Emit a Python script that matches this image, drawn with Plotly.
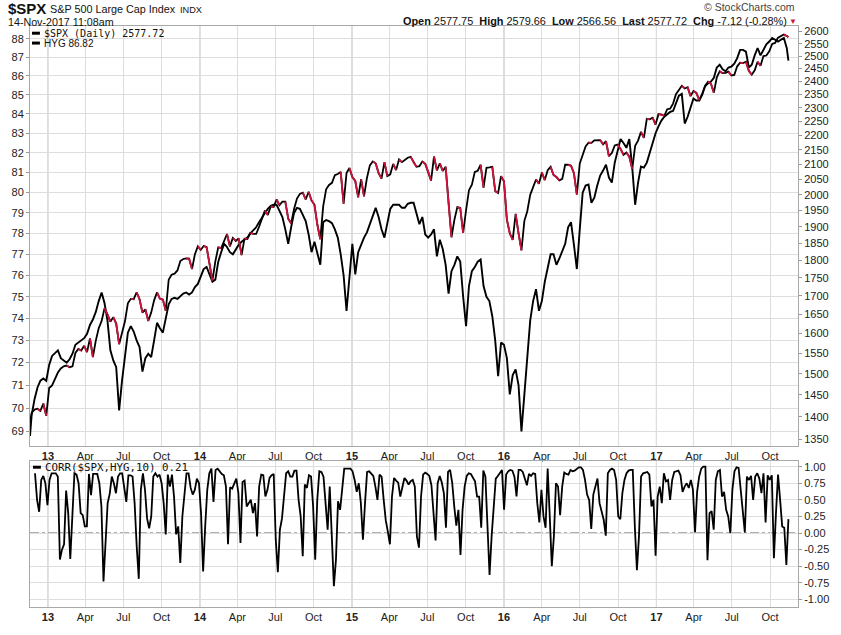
import pandas as pd
import plotly.graph_objects as go

# ---------------- data (weekly closes) ----------------
spx_2012 = [1387, 1409, 1416, 1418, 1413, 1430, 1402]
spx_2013 = [1466, 1472, 1486, 1503, 1513, 1518, 1520, 1516, 1518, 1551, 1561, 1557, 1569,
            1553, 1588, 1541, 1582, 1614, 1633, 1667, 1650, 1631, 1643, 1626, 1573, 1606,
            1632, 1680, 1692, 1691, 1710, 1691, 1655, 1664, 1633, 1655, 1688, 1710, 1692,
            1690, 1660, 1745, 1759, 1762, 1771, 1798, 1804, 1806, 1805, 1775, 1818, 1841]
spx_2014 = [1831, 1842, 1839, 1790, 1742, 1797, 1838, 1836, 1859, 1878, 1841, 1866, 1857,
            1865, 1815, 1864, 1863, 1881, 1878, 1878, 1900, 1924, 1950, 1936, 1963, 1961,
            1985, 1967, 1978, 1978, 1925, 1910, 1955, 1988, 2003, 2007, 1985, 2010, 1982,
            1968, 1906, 1862, 1964, 2018, 2032, 2039, 2064, 2068, 2075, 1972, 2071, 2088]
spx_2015 = [2058, 2045, 1992, 2051, 1995, 2055, 2097, 2110, 2104, 2071, 2053, 2108, 2061,
            2067, 2102, 2081, 2117, 2108, 2116, 2123, 2126, 2107, 2092, 2094, 2110, 2102,
            2077, 2046, 2127, 2080, 2104, 2078, 2092, 1971, 1868, 1921, 1961, 1958, 1881,
            1951, 2015, 2033, 2075, 2079, 2099, 2023, 2089, 2090, 2092, 2012, 2006, 2061]
spx_2016 = [2044, 1922, 1880, 1860, 1940, 1880, 1829, 1918, 1948, 2000, 2022, 2050, 2036,
            2073, 2048, 2081, 2092, 2065, 2058, 2047, 2052, 2099, 2099, 2096, 2071, 2001,
            2103, 2130, 2162, 2175, 2174, 2183, 2184, 2184, 2169, 2180, 2128, 2139, 2165,
            2168, 2153, 2133, 2141, 2126, 2085, 2164, 2182, 2213, 2192, 2260, 2258, 2264, 2239]
spx_2017 = [2277, 2275, 2271, 2295, 2297, 2316, 2351, 2367, 2383, 2373, 2378, 2344, 2363,
            2356, 2329, 2349, 2384, 2399, 2391, 2357, 2416, 2439, 2432, 2433, 2438, 2423,
            2425, 2459, 2473, 2472, 2477, 2441, 2426, 2443, 2477, 2461, 2500, 2502, 2519,
            2549, 2553, 2575, 2581, 2588, 2582, 2577.72]

hyg_2012 = [68.8, 69.7, 70.4, 70.9, 71.2, 71.3, 71.2]
hyg_2013 = [71.9, 72.3, 72.45, 72.55, 72.2, 72.1, 72.0, 72.15, 72.4, 72.8, 72.9, 73.0, 73.1,
            73.3, 73.7, 73.95, 74.3, 74.8, 75.2, 74.7, 73.9, 72.55, 72.1, 71.8, 69.9, 71.2,
            72.3, 73.35, 73.65, 73.4, 73.0, 72.7, 71.6, 72.2, 72.4, 72.25, 73.0, 73.8, 73.55,
            73.35, 74.0, 74.65, 74.9, 74.95, 74.9, 75.05, 75.15, 75.2, 75.1, 75.2, 75.45, 75.6]
hyg_2014 = [75.95, 76.3, 76.4, 76.05, 75.7, 75.8, 76.65, 77.1, 77.5, 77.35, 77.1, 77.0, 77.25,
            77.45, 77.6, 77.7, 77.8, 78.0, 78.15, 78.3, 78.55, 78.8, 79.0, 79.2, 79.35, 79.4,
            79.4, 79.1, 78.8, 78.2, 77.5, 78.3, 79.0, 79.25, 79.2, 78.9, 78.6, 77.95, 77.1,
            77.6, 77.1, 76.5, 78.55, 78.65, 78.6, 78.5, 78.2, 77.8, 77.0, 76.0, 74.35, 76.05]
hyg_2015 = [77.5, 76.05, 77.1, 77.45, 77.8, 78.05, 78.45, 78.9, 79.25, 78.8, 78.2, 77.8, 78.45,
            79.2, 79.4, 79.4, 79.4, 79.25, 79.25, 79.45, 79.5, 79.5, 79.0, 78.45, 78.8, 77.95,
            77.8, 77.95, 78.2, 76.9, 77.7, 77.25, 76.5, 75.15, 76.2, 76.5, 76.9, 76.65, 75.0,
            73.65, 75.5, 76.2, 76.4, 76.65, 76.75, 75.5, 75.0, 74.8, 74.1, 73.0, 71.4, 72.9]
hyg_2016 = [72.8, 72.2, 70.6, 71.45, 71.7, 71.0, 69.0, 70.6, 72.2, 73.9, 74.8, 75.35, 74.35,
            74.8, 75.7, 76.3, 77.0, 77.0, 76.5, 76.8, 77.2, 77.5, 78.3, 78.55, 77.45, 76.3,
            78.2, 80.0, 80.35, 80.4, 79.5, 79.75, 80.35, 80.85, 81.1, 81.4, 80.75, 80.5, 81.5,
            82.15, 82.7, 82.5, 82.25, 82.7, 81.25, 79.4, 80.5, 81.3, 81.25, 81.5, 82.0, 82.5, 83.0]
hyg_2017 = [83.35, 83.65, 83.85, 84.0, 84.1, 84.15, 84.5, 84.95, 85.05, 83.5, 83.85, 84.35, 84.8,
            84.7, 84.7, 85.05, 85.45, 85.6, 85.7, 85.9, 86.45, 86.6, 86.35, 86.25, 86.45, 86.5,
            86.65, 86.95, 87.4, 87.4, 87.3, 86.45, 86.6, 87.1, 87.5, 87.1, 87.4, 87.7, 87.85,
            88.05, 87.95, 87.85, 87.95, 88.05, 87.5, 86.82]

# 10-day correlation, sampled about every 5 days from 2012-12-01 to 2017-11-14
corr = [0.90, 0.50, 0.32, 0.80, 0.86, 0.75, 0.42, 0.80, 0.90, 0.90,
        0.90, 0.85, -0.40, -0.25, -0.17, 0.64, 0.30, -0.39, 0.35, 0.90,
        0.88, 0.75, 0.30, 0.27, 0.10, 0.10, 0.89, 0.57, 0.89, 0.89,
        0.89, 0.75, 0.40, -0.73, -0.20, 0.45, 0.59, 0.85, 0.75, 0.60,
        0.85, 0.90, 0.90, 0.70, 0.47, 0.87, 0.87, 0.85, 0.45, -0.20,
        -0.69, 0.65, 0.90, 0.65, 0.22, 0.07, 0.25, 0.85, 0.90, 0.85,
        0.88, 0.75, 0.45, -0.02, 0.88, 0.70, 0.88, 0.54, -0.02, 0.10,
        -0.45, 0.25, 0.55, 0.90, 0.90, 0.68, 0.58, 0.65, 0.82, 0.75,
        0.30, -0.58, 0.10, 0.65, 0.90, 0.97, 0.47, 0.95, 0.97, 0.93,
        0.89, 0.87, 0.70, -0.17, 0.69, 0.67, 0.75, 0.82, 0.60, -0.15,
        0.77, 0.79, 0.40, 0.45, 0.50, 0.30, 0.45, -0.05, 0.70, 0.88,
        0.87, 0.55, 0.65, 0.83, 0.87, 0.89, -0.10, -0.59, 0.05, 0.22,
        0.60, 0.90, 0.93, 0.85, 0.85, 0.94, 0.94, 0.50, 0.25, -0.35,
        0.73, 0.68, 0.87, 0.85, 0.40, -0.40, 0.50, 0.93, 0.92, 0.85,
        0.45, 0.05, 0.70, -0.20, -0.80, -0.40, 0.48, 0.35, 0.65, 0.97,
        0.97, 0.97, 0.97, 0.93, 0.80, 0.62, 0.75, 0.45, -0.10, 0.45,
        0.92, 0.93, 0.89, 0.86, 0.70, 0.50, 0.88, 0.85, 0.50, 0.19,
        0.02, -0.17, 0.55, 0.83, 0.79, 0.76, 0.55, 0.68, 0.83, 0.79,
        0.73, 0.78, 0.80, 0.70, -0.05, -0.22, 0.55, 0.88, 0.91, 0.89,
        0.86, 0.72, 0.30, -0.11, 0.75, 0.86, 0.76, 0.60, 0.08, 0.92,
        0.95, 0.76, 0.40, 0.11, 0.35, -0.33, 0.35, 0.70, 0.86, 0.90,
        0.89, 0.84, 0.78, 0.55, 0.55, 0.08, 0.94, 0.85, 0.10, -0.63,
        -0.05, 0.35, 0.82, 0.86, 0.90, 0.95, 0.35, 0.88, 0.93, 0.95,
        0.94, 0.85, 0.55, 0.95, 0.95, 0.92, 0.82, 0.72, 0.89, 0.86,
        0.90, 0.89, 0.45, 0.16, 0.65, 0.25, 0.08, 0.97, 0.26, -0.50,
        -0.05, 0.75, 0.70, 0.27, 0.70, 0.91, 0.89, 0.88, 0.95, 0.93,
        0.94, 0.97, 0.99, 0.99, 0.95, 0.80, 0.58, 0.50, 0.06, 0.58,
        0.70, 0.82, 0.45, 0.30, 0.20, -0.04, 0.90, 0.95, 0.97, 0.95,
        0.80, 0.25, 0.21, 0.60, 0.80, 0.90, 0.94, 0.95, 0.95, 0.10,
        -0.56, -0.05, 0.85, 0.90, 0.91, 0.92, 0.88, 0.40, 0.50, -0.34,
        0.55, 0.70, 0.45, 0.90, 0.78, 0.80, 0.50, 0.80, 0.92, 0.93,
        0.94, 0.87, 0.62, 0.70, 0.75, 0.68, 0.80, 0.65, 0.01, 0.62,
        0.85, 0.97, 1.00, 1.00, -0.41, 0.30, 0.33, 0.05, 0.80, 0.93,
        0.95, 0.55, 0.62, 0.35, 0.25, 0.00, 0.65, 0.93, 0.99, 0.98,
        0.65, 0.33, 0.01, 0.85, 0.80, 0.86, 0.50, 0.85, 0.90, 0.82,
        0.60, 0.90, 0.16, 0.87, 0.80, 0.87, -0.38, 0.30, 0.88, 0.50,
        0.10, 0.08, -0.48, 0.21]

hyg_ticks = list(range(69, 89))
spx_ticks = list(range(1350, 2601, 50))
corr_ticks = [-1.0, -0.75, -0.5, -0.25, 0.0, 0.25, 0.5, 0.75, 1.0]
quarter_starts = pd.date_range("2013-01-01", "2017-10-01", freq="QS")
year_starts = pd.date_range("2013-01-01", "2017-01-01", freq="YS")

# ---------------- date construction ----------------
first_fridays = {2013: "2013-01-04", 2014: "2014-01-03", 2015: "2015-01-02",
                 2016: "2016-01-01", 2017: "2017-01-06"}


def weekly(series_by_year):
    xs, ys = [], []
    for yr, vals in series_by_year:
        if yr == 2012:
            d = [pd.Timestamp("2012-11-19")] + list(pd.date_range("2012-11-23", periods=len(vals) - 1, freq="7D"))
        elif yr == 2017:
            d = list(pd.date_range(first_fridays[yr], periods=len(vals) - 1, freq="7D")) + [pd.Timestamp("2017-11-14")]
        else:
            d = list(pd.date_range(first_fridays[yr], periods=len(vals), freq="7D"))
        xs += d
        ys += vals
    return xs, ys


spx_x, spx = weekly([(2012, spx_2012), (2013, spx_2013), (2014, spx_2014),
                     (2015, spx_2015), (2016, spx_2016), (2017, spx_2017)])
hyg_x, hyg = weekly([(2012, hyg_2012), (2013, hyg_2013), (2014, hyg_2014),
                     (2015, hyg_2015), (2016, hyg_2016), (2017, hyg_2017)])
corr_x = pd.date_range("2012-12-01", "2017-11-14", periods=len(corr))

# down segments of SPX in red
red_x, red_y = [], []
for i in range(1, len(spx)):
    if spx[i] < spx[i - 1]:
        red_x += [spx_x[i - 1], spx_x[i], None]
        red_y += [spx[i - 1], spx[i], None]

# ---------------- geometry helpers ----------------
W, H = 841, 635
ML, MR, MT, MB = 25, 41, 26, 20
PW, PH = W - ML - MR, H - MT - MB


def fx(px):
    return (px - ML) / PW


def fy(py):
    return (H - MB - py) / PH


FONT = "Liberation Sans, Arial, sans-serif"
MONO = "DejaVu Sans Mono, monospace"
GRID = "#dedede"
FRAME = "#a9a9a9"
RED = "#d0123c"

fig = go.Figure()
fig.add_trace(go.Scatter(x=hyg_x, y=hyg, mode="lines", xaxis="x", yaxis="y",
                         line=dict(color="black", width=1.9), hoverinfo="skip"))
fig.add_trace(go.Scatter(x=spx_x, y=spx, mode="lines", xaxis="x", yaxis="y2",
                         line=dict(color="black", width=1.8), hoverinfo="skip"))
fig.add_trace(go.Scatter(x=red_x, y=red_y, mode="lines", xaxis="x", yaxis="y2",
                         line=dict(color=RED, width=1.8), connectgaps=False, hoverinfo="skip"))
fig.add_trace(go.Scatter(x=corr_x, y=corr, mode="lines", xaxis="x2", yaxis="y3",
                         line=dict(color="black", width=1.8), hoverinfo="skip"))

xlabels = [("<b>%s</b>" % d.strftime("%y")) if d.month == 1 else d.strftime("%b") for d in quarter_starts]
xrange_ = ["2012-11-19", "2017-12-07"]
xcommon = dict(type="date", range=xrange_, tickmode="array", tickvals=list(quarter_starts),
               ticktext=xlabels, showgrid=True, gridcolor=GRID, gridwidth=1,
               showline=True, linecolor=FRAME, mirror=True, ticks="", zeroline=False,
               tickfont=dict(family=FONT, size=11, color="#222"))

fig.update_layout(
    width=W, height=H, margin=dict(l=ML, r=MR, t=MT, b=MB),
    paper_bgcolor="white", plot_bgcolor="white", showlegend=False,
    font=dict(family=FONT, size=11, color="#222"),
    xaxis=dict(domain=[0, 1], anchor="y", **xcommon),
    yaxis=dict(domain=[fy(452), 1.0], type="log", range=[1.83484, 1.94793],
               tickmode="array", tickvals=hyg_ticks, ticktext=[str(t) for t in hyg_ticks],
               side="left", showgrid=True, gridcolor=GRID, zeroline=False,
               showline=True, linecolor=FRAME, mirror=True,
               ticks="outside", ticklen=3, tickcolor="#999",
               tickfont=dict(family=FONT, size=11, color="#222")),
    yaxis2=dict(overlaying="y", anchor="x", side="right", type="log",
                range=[3.12551, 3.41890], tickmode="array", tickvals=spx_ticks,
                ticktext=[str(t) for t in spx_ticks], showgrid=False, zeroline=False,
                ticks="outside", ticklen=3, tickcolor="#999",
                tickfont=dict(family=FONT, size=11, color="#222")),
    xaxis2=dict(domain=[0, 1], anchor="y3", **xcommon),
    yaxis3=dict(domain=[0, fy(467)], side="right", range=[-1.114, 1.085],
                tickmode="array", tickvals=corr_ticks,
                ticktext=["%.2f" % t for t in corr_ticks], showgrid=True, gridcolor=GRID,
                zeroline=False, showline=True, linecolor=FRAME, mirror=True,
                ticks="outside", ticklen=3, tickcolor="#999",
                tickfont=dict(family=FONT, size=11, color="#222")),
)

shapes = []
for d in year_starts:
    shapes.append(dict(type="line", xref="x", yref="y domain", x0=d, x1=d, y0=0, y1=1,
                       line=dict(color="#b5b5b5", width=1), layer="below"))
    shapes.append(dict(type="line", xref="x2", yref="y3 domain", x0=d, x1=d, y0=0, y1=1,
                       line=dict(color="#b5b5b5", width=1), layer="below"))
shapes.append(dict(type="line", xref="x2 domain", yref="y3", x0=0, x1=1, y0=0, y1=0,
                   line=dict(color="#555", width=1, dash="dashdot"), layer="below"))
# legend dashes
for (x0, x1, yy) in [(27, 35, 33.3), (27, 35, 43.3), (28, 36, 473.3)]:
    shapes.append(dict(type="line", xref="paper", yref="paper", x0=fx(x0), x1=fx(x1),
                       y0=fy(yy), y1=fy(yy), line=dict(color="black", width=3)))
fig.update_layout(shapes=shapes)

ann = []


def text(x, y, s, size, anchor="left", family=FONT, color="#111"):
    ann.append(dict(x=fx(x), y=fy(y), xref="paper", yref="paper", text=s, showarrow=False,
                    xanchor=anchor, yanchor="middle",
                    font=dict(family=family, size=size, color=color)))


text(1, 8, "<b>$SPX</b>", 15)
text(43, 9, "S&P 500 Large Cap Index", 10.8)
text(174, 9.5, "INDX", 9.2)
text(1, 21.5, "14-Nov-2017 11:08am", 10.7)
hdr = ("<b>Open</b> 2577.75&nbsp;&nbsp;<b>High</b> 2579.66&nbsp;&nbsp;<b>Low</b> 2566.56"
       "&nbsp;&nbsp;<b>Last</b> 2577.72&nbsp;&nbsp;<b>Chg</b> -7.12 (-0.28%)")
text(791, 21, hdr, 10.9, anchor="right")
text(801, 21.5, "▼", 8, anchor="right", color=RED)
text(799, 7, "© StockCharts.com", 10.5, anchor="right", color="#444")
text(37, 33.3, "$SPX (Daily) 2577.72", 10, family=MONO)
text(37, 43.3, "HYG 86.82", 10)
text(38, 473.3, "CORR($SPX,HYG,10) 0.21", 10.8, family=MONO)
fig.update_layout(annotations=ann)

fig.write_html("out.html")
